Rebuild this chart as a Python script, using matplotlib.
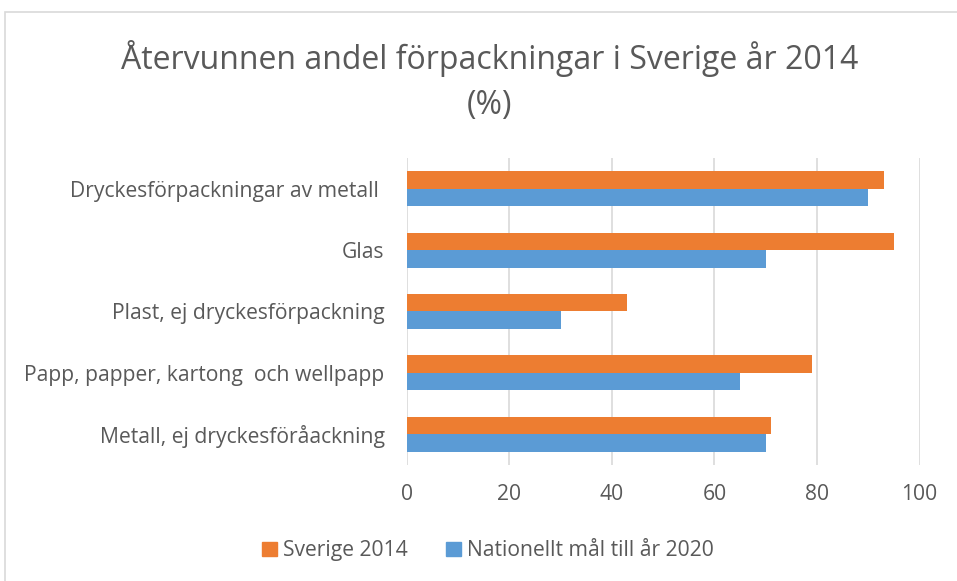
import matplotlib.pyplot as plt
import matplotlib.patches as mpatches
import numpy as np

# Data (top to bottom as shown)
categories = ['Dryckesförpackningar av metall ', 'Glas', 'Plast, ej dryckesförpackning',
              'Papp, papper, kartong  och wellpapp', 'Metall, ej dryckesföråackning']
sverige_2014 = [93, 95, 43, 79, 71]
mal_2020 = [90, 70, 30, 65, 70]
xticks = [0, 20, 40, 60, 80, 100]

orange = '#ED7D31'
blue = '#5B9BD5'
text_col = '#595959'

plt.rcParams['font.family'] = ['Open Sans', 'DejaVu Sans']

fig = plt.figure(figsize=(9.57, 5.81), dpi=100)
ax = fig.add_axes([0.425, 0.2, 0.536, 0.528])

y = np.arange(len(categories))
h = 0.285
ax.barh(y - h / 2, sverige_2014, height=h, color=orange, label='Sverige 2014', zorder=3)
ax.barh(y + h / 2, mal_2020, height=h, color=blue, label='Nationellt mål till år 2020', zorder=3)

ax.set_ylim(len(categories) - 0.5, -0.5)
ax.set_xlim(0, 100)
ax.set_yticks(y)
ax.set_yticklabels(categories, fontsize=15.2, color=text_col)
ax.set_xticks(xticks)
ax.set_xticklabels([str(t) for t in xticks], fontsize=15.2, color=text_col)
ax.tick_params(axis='both', length=0)
ax.tick_params(axis='y', pad=16)
ax.tick_params(axis='x', pad=14)
for s in ax.spines.values():
    s.set_visible(False)
ax.xaxis.grid(True, color='#d9d9d9', linewidth=1.2, zorder=0)
ax.set_axisbelow(True)

# Title
fig.text(0.512, 0.9, 'Återvunnen andel förpackningar i Sverige år 2014',
         ha='center', va='center', fontsize=23, color=text_col)
fig.text(0.512, 0.818, '(%)', ha='center', va='center', fontsize=23, color=text_col)

# Legend
handles = [mpatches.Patch(color=orange, label='Sverige 2014'),
           mpatches.Patch(color=blue, label='Nationellt mål till år 2020')]
fig.legend(handles=handles, loc='center', bbox_to_anchor=(0.51, 0.052), ncol=2,
           frameon=False, fontsize=15.2, labelcolor=text_col, handlelength=0.7,
           handleheight=0.7, handletextpad=0.3, columnspacing=1.8)

# Chart border
fig.patches.append(mpatches.Rectangle((5 / 957, -0.1), 1.0, 1.1 - 12 / 581,
                                      transform=fig.transFigure, fill=False,
                                      edgecolor='#d9d9d9', linewidth=1.2))

fig.savefig('out.png', dpi=100)
